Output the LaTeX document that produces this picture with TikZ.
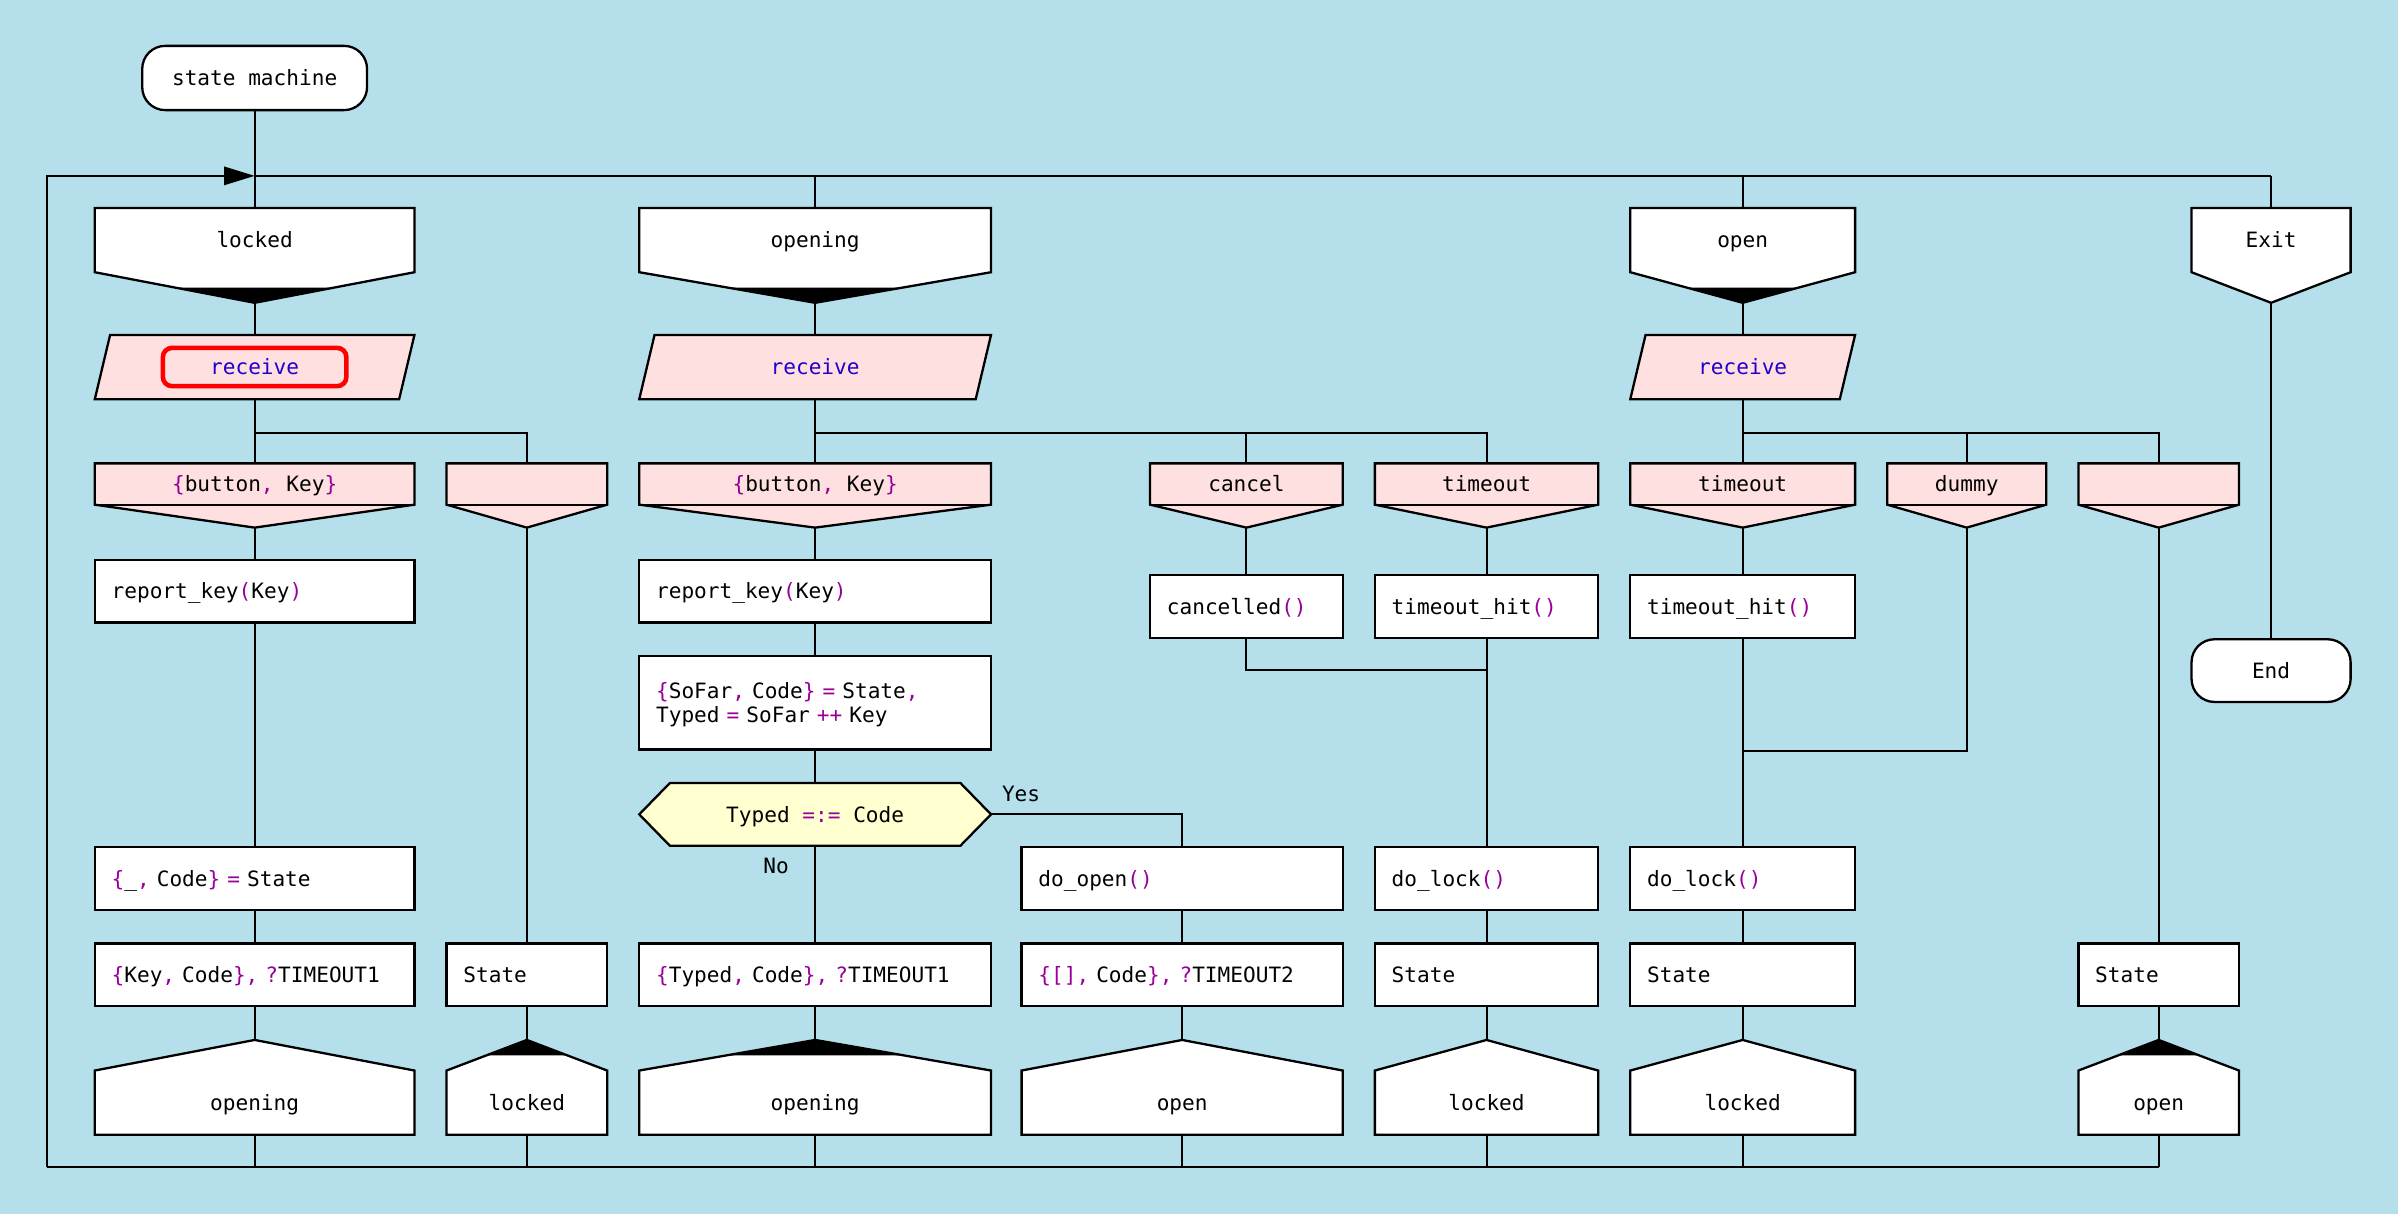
\documentclass[tikz,border=0pt]{standalone}
\usepackage{fontspec}
\newfontfamily\monof{DejaVu Sans Mono}
\usetikzlibrary{arrows.meta}
\definecolor{bgc}{RGB}{180,223,235}
\definecolor{pinkc}{RGB}{255,224,224}
\definecolor{yelc}{RGB}{255,255,208}
\definecolor{purc}{RGB}{153,0,153}
\definecolor{bluc}{RGB}{34,0,204}
\newcommand\Pu[1]{\textcolor{purc}{#1}}
\newcommand\MF{\monof\fontsize{13.8}{16}\selectfont}
\tikzset{
  shp/.style={draw=black, line width=1.5pt, line join=miter},
  conn/.style={draw=black, line width=1.3pt},
  ghost/.style={inner sep=0pt, outer sep=0pt},
  txt/.style={font=\MF, inner sep=0pt, text height=10pt, text depth=0pt},
  act/.style={shp, fill=white, font=\MF, inner xsep=11pt, inner ysep=0pt, outer sep=0pt, align=left, text height=10pt, text depth=0pt},
  term/.style={shp, fill=white, rounded corners=15pt, font=\MF, inner sep=0pt, outer sep=0pt, text height=10pt, text depth=0pt},
  hlbox/.style={draw=red, line width=3pt, rounded corners=6pt, minimum width=120pt, minimum height=25pt}
}
\newcommand\StHdr[5]{%
  \pgfmathsetmacro\cxx{(#2+#3)/2}%
  \pgfmathsetmacro\wwd{#3-#2}%
  \filldraw[shp,fill=white] (#2,136)--(#3,136)--(#3,178)--(\cxx,198)--(#2,178)--cycle;
  \ifnum#5=1 \fill[black] (\cxx,198)--({(#2+\cxx)/2},188)--({(#3+\cxx)/2},188)--cycle;\fi
  \node[ghost,minimum width=\wwd pt,minimum height=62pt] (#1) at (\cxx,167) {};
  \node[txt] (#1-t) at (\cxx,157) {#4};
}
\newcommand\Recv[4]{%
  \pgfmathsetmacro\cxx{(#2+#3)/2}%
  \pgfmathsetmacro\wwd{#3-#2}%
  \filldraw[shp,fill=pinkc] ({#2+10},219)--(#3,219)--({#3-10},261)--(#2,261)--cycle;
  \node[ghost,minimum width=\wwd pt,minimum height=42pt] (#1) at (\cxx,240) {};
  \node[txt,text=bluc,#4] (#1-t) at (\cxx,240) {receive};
}
\newcommand\Pat[4]{%
  \pgfmathsetmacro\cxx{(#2+#3)/2}%
  \pgfmathsetmacro\wwd{#3-#2}%
  \filldraw[shp,fill=pinkc] (#2,303)--(#3,303)--(#3,330)--(\cxx,345)--(#2,330)--cycle;
  \draw[shp] (#2,330)--(#3,330);
  \node[ghost,minimum width=\wwd pt,minimum height=42pt] (#1) at (\cxx,324) {};
  \node[txt] (#1-t) at (\cxx,316.5) {#4};
}
\newcommand\NxSt[5]{%
  \pgfmathsetmacro\cxx{(#2+#3)/2}%
  \pgfmathsetmacro\wwd{#3-#2}%
  \filldraw[shp,fill=white] (\cxx,680)--(#3,700)--(#3,742)--(#2,742)--(#2,700)--cycle;
  \ifnum#5=1 \fill[black] (\cxx,680)--({(#3+\cxx)/2},690)--({(#2+\cxx)/2},690)--cycle;\fi
  \node[ghost,minimum width=\wwd pt,minimum height=62pt] (#1) at (\cxx,711) {};
  \node[txt] (#1-t) at (\cxx,721) {#4};
}
\newcommand\Act[7][]{%
  \pgfmathsetmacro\cxx{(#3+#4)/2}%
  \pgfmathsetmacro\cyy{(#5+#6)/2}%
  \pgfmathsetmacro\tww{#4-#3-22}%
  \pgfmathsetmacro\hhh{#6-#5}%
  \node[act,text width=\tww pt,minimum height=\hhh pt,#1] (#2) at (\cxx,\cyy) {#7};
}
\begin{document}
\begin{tikzpicture}[x=1pt,y=-1pt]
\fill[bgc] (0,0) rectangle (1568,794);
\useasboundingbox (0,0) rectangle (1568,794);

% start terminal
\node[term,minimum width=147pt,minimum height=42pt] (sm) at (166.5,51) {state machine};

% state headers
\StHdr{hA}{62}{271}{locked}{1}
\StHdr{hC}{418}{648}{opening}{1}
\StHdr{hG}{1066}{1213}{open}{1}
\StHdr{hJ}{1433}{1537}{Exit}{0}

% receive
\Recv{rA}{62}{271}{hlbox}
\Recv{rC}{418}{648}{}
\Recv{rG}{1066}{1213}{}

% patterns
\Pat{pA}{62}{271}{\Pu{\{}button\Pu{,} Key\Pu{\}}}
\Pat{pB}{292}{397}{}
\Pat{pC}{418}{648}{\Pu{\{}button\Pu{,} Key\Pu{\}}}
\Pat{pE}{752}{878}{cancel}
\Pat{pF}{899}{1045}{timeout}
\Pat{pG}{1066}{1213}{timeout}
\Pat{pH}{1234}{1338}{dummy}
\Pat{pI}{1359}{1464}{}

% actions
\Act{aA1}{62}{271}{366}{407}{report\_key\Pu{(}Key\Pu{)}}
\Act{aC1}{418}{648}{366}{407}{report\_key\Pu{(}Key\Pu{)}}
\Act{aE1}{752}{878}{376}{417}{cancelled\Pu{()}}
\Act{aF1}{899}{1045}{376}{417}{timeout\_hit\Pu{()}}
\Act{aG1}{1066}{1213}{376}{417}{timeout\_hit\Pu{()}}
\Act[text depth=16pt]{aC2}{418}{648}{429}{490}{\Pu{\{}SoFar\Pu{,} Code\Pu{\}} \Pu{=} State\Pu{,}\\Typed \Pu{=} SoFar \Pu{++} Key}

% decision
\filldraw[shp,fill=yelc] (418,532.5)--(438,512)--(628,512)--(648,532.5)--(628,553)--(438,553)--cycle;
\node[ghost,minimum width=230pt,minimum height=41pt] (hex) at (533,532.5) {};
\node[txt] (hex-t) at (533,532.5) {Typed \Pu{=:=} Code};
\node[txt,anchor=west] (yes) at (655,519) {Yes};
\node[txt,anchor=east] (no) at (516,566) {No};

\Act{aA3}{62}{271}{554}{595}{\Pu{\{}\_\Pu{,} Code\Pu{\}} \Pu{=} State}
\Act{aD3}{668}{878}{554}{595}{do\_open\Pu{()}}
\Act{aF3}{899}{1045}{554}{595}{do\_lock\Pu{()}}
\Act{aG3}{1066}{1213}{554}{595}{do\_lock\Pu{()}}

\Act{aA4}{62}{271}{617}{658}{\Pu{\{}Key\Pu{,} Code\Pu{\},} \Pu{?}TIMEOUT1}
\Act{aB4}{292}{397}{617}{658}{State}
\Act{aC4}{418}{648}{617}{658}{\Pu{\{}Typed\Pu{,} Code\Pu{\},} \Pu{?}TIMEOUT1}
\Act{aD4}{668}{878}{617}{658}{\Pu{\{[],} Code\Pu{\},} \Pu{?}TIMEOUT2}
\Act{aF4}{899}{1045}{617}{658}{State}
\Act{aG4}{1066}{1213}{617}{658}{State}
\Act{aI4}{1359}{1464}{617}{658}{State}

% next states
\NxSt{nA}{62}{271}{opening}{0}
\NxSt{nB}{292}{397}{locked}{1}
\NxSt{nC}{418}{648}{opening}{1}
\NxSt{nD}{668}{878}{open}{0}
\NxSt{nF}{899}{1045}{locked}{0}
\NxSt{nG}{1066}{1213}{locked}{0}
\NxSt{nI}{1359}{1464}{open}{1}

% end terminal
\node[term,minimum width=104pt,minimum height=41pt] (end) at (1485,438.5) {End};

% helper coordinates
\coordinate (top) at (0,115);
\coordinate (bot) at (0,763);
\coordinate (br) at (0,283);
\coordinate (lx) at (31,0);
\coordinate (j1) at (972,438);
\coordinate (j2) at (1139.5,491);

% connectors
\draw[conn] (sm.south) -- (hA.north);
\draw[conn] (hA.north |- top) -- (hJ.north |- top);
\draw[conn] (hC.north |- top) -- (hC.north);
\draw[conn] (hG.north |- top) -- (hG.north);
\draw[conn] (hJ.north |- top) -- (hJ.north);
\draw[conn] (lx |- bot) -- (nI.south |- bot);
\draw[conn,-{Triangle[length=20pt,width=12pt]}] (lx |- bot) -- (lx |- top) -- (hA.north |- top);

% column A/B
\draw[conn] (hA.south) -- (rA.north);
\draw[conn] (rA.south) -- (pA.north);
\draw[conn] (rA.south |- br) -| (pB.north);
\draw[conn] (pA.south) -- (aA1.north);
\draw[conn] (aA1.south) -- (aA3.north);
\draw[conn] (aA3.south) -- (aA4.north);
\draw[conn] (aA4.south) -- (nA.north);
\draw[conn] (nA.south) -- (nA.south |- bot);
\draw[conn] (pB.south) -- (aB4.north);
\draw[conn] (aB4.south) -- (nB.north);
\draw[conn] (nB.south) -- (nB.south |- bot);

% column C/D/E/F
\draw[conn] (hC.south) -- (rC.north);
\draw[conn] (rC.south) -- (pC.north);
\draw[conn] (rC.south |- br) -| (pF.north);
\draw[conn] (pE.north |- br) -- (pE.north);
\draw[conn] (pC.south) -- (aC1.north);
\draw[conn] (aC1.south) -- (aC2.north);
\draw[conn] (aC2.south) -- (hex.north);
\draw[conn] (hex.south) -- (aC4.north);
\draw[conn] (aC4.south) -- (nC.north);
\draw[conn] (nC.south) -- (nC.south |- bot);
\draw[conn] (hex.east) -| (aD3.north);
\draw[conn] (aD3.south) -- (aD4.north);
\draw[conn] (aD4.south) -- (nD.north);
\draw[conn] (nD.south) -- (nD.south |- bot);
\draw[conn] (pE.south) -- (aE1.north);
\draw[conn] (aE1.south) |- (j1);
\draw[conn] (pF.south) -- (aF1.north);
\draw[conn] (aF1.south) -- (aF3.north);
\draw[conn] (aF3.south) -- (aF4.north);
\draw[conn] (aF4.south) -- (nF.north);
\draw[conn] (nF.south) -- (nF.south |- bot);

% column G/H/I
\draw[conn] (hG.south) -- (rG.north);
\draw[conn] (rG.south) -- (pG.north);
\draw[conn] (rG.south |- br) -| (pI.north);
\draw[conn] (pH.north |- br) -- (pH.north);
\draw[conn] (pG.south) -- (aG1.north);
\draw[conn] (aG1.south) -- (aG3.north);
\draw[conn] (aG3.south) -- (aG4.north);
\draw[conn] (aG4.south) -- (nG.north);
\draw[conn] (nG.south) -- (nG.south |- bot);
\draw[conn] (pH.south) |- (j2);
\draw[conn] (pI.south) -- (aI4.north);
\draw[conn] (aI4.south) -- (nI.north);
\draw[conn] (nI.south) -- (nI.south |- bot);

% exit
\draw[conn] (hJ.south) -- (end.north);
\end{tikzpicture}
\end{document}
